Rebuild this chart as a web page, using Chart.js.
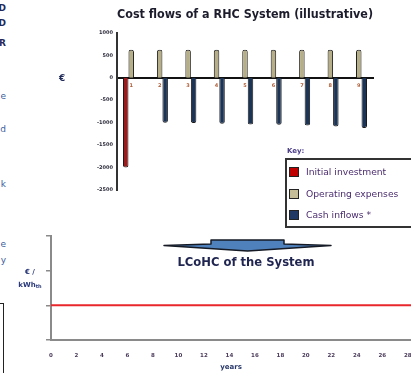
<!DOCTYPE html>
<html>
<head>
<meta charset="utf-8">
<script src="https://cdn.jsdelivr.net/npm/chart.js@4.4.1/dist/chart.umd.min.js"></script>
<style>
  html, body { margin: 0; padding: 0; background: #fff; }
  body { width: 411px; height: 373px; position: relative; overflow: hidden; font-family: "DejaVu Sans", sans-serif; }
  canvas { position: absolute; }
  #costChart { left: 0; top: 0; }
  #lcohcChart { left: 0; top: 228px; }
  .frag { position: absolute; left: -30px; width: 36px; text-align: right; line-height: 1; }
  .frag.dark { color: #1f2a5a; font: bold 9px "DejaVu Sans", sans-serif; }
  .frag.blue { color: #3e5c9c; font: 9px "DejaVu Sans", sans-serif; }
  #sideBox { position: absolute; left: -60px; top: 303px; width: 62px; height: 120px; border: 1.5px solid #222; }
  #euroTop { position: absolute; left: 59px; top: 73px; font: bold 9px "DejaVu Sans", sans-serif; color: #1f2a5a; }
  #euroBottom { position: absolute; left: 10px; top: 266px; width: 40px; text-align: center; font: bold 7px "DejaVu Sans", sans-serif; color: #2a3a7a; line-height: 13px; }
  #euroBottom sub { font-size: 5px; vertical-align: -1px; }
  #keyTitle { position: absolute; left: 287px; top: 147px; font: bold 7px "DejaVu Sans", sans-serif; color: #4b3d8a; }
  #keyBox { position: absolute; left: 285px; top: 158px; width: 140px; height: 66px; border: 2px solid #333; }
  .keyRow { position: absolute; left: 2px; height: 11px; white-space: nowrap; }
  .keySwatch { position: absolute; left: 0; top: 0; width: 8px; height: 8px; border: 1.5px solid #222; }
  .keyText { position: absolute; left: 17px; top: -1px; font: 9.2px "DejaVu Sans", sans-serif; color: #4a2c6e; }
  #lcohcTitle { position: absolute; left: 146px; top: 255px; width: 200px; text-align: center; font: bold 11.6px "DejaVu Sans", sans-serif; color: #1f2550; }
  svg { position: absolute; left: 0; top: 0; }
</style>
</head>
<body>
<span class="frag dark" style="top:3px">D</span>
<span class="frag dark" style="top:18px">D</span>
<span class="frag dark" style="top:38px">R</span>
<span class="frag blue" style="top:91px">e</span>
<span class="frag blue" style="top:124px">d</span>
<span class="frag blue" style="top:179px">k</span>
<span class="frag blue" style="top:239px">e</span>
<span class="frag blue" style="top:255px">y</span>
<div id="sideBox"></div>

<canvas id="costChart" width="411" height="200"></canvas>
<div id="euroTop">€</div>
<div id="keyTitle">Key:</div>
<div id="keyBox"></div>

<svg width="411" height="373">
  <polygon points="211,240 284,240 284,244 331,245.5 247.5,251 164,245.5 211,244"
           fill="#4f81bd" stroke="#151a24" stroke-width="1.5" stroke-linejoin="round"/>
</svg>
<div id="lcohcTitle">LCoHC of the System</div>
<div id="euroBottom">€ /<br>kWh<sub>th</sub></div>
<canvas id="lcohcChart" width="411" height="145"></canvas>

<script>
// Cost flows per year of the system
const years = ['1', '2', '3', '4', '5', '6', '7', '8', '9'];
const initialInvestment = [-2000, null, null, null, null, null, null, null, null];
const operatingExpenses = [620, 620, 620, 620, 620, 620, 620, 620, 620];
const cashInflows = [null, -1000, -1010, -1025, -1040, -1050, -1065, -1085, -1120];
const costTicks = [1000, 500, 0, -500, -1000, -1500, -2000, -2500];

const seriesNames = ['Initial investment', 'Operating expenses', 'Cash inflows *'];
const seriesColors = ['#c00000', '#c4bd97', '#1f3864'];
// bar bodies are drawn in a deeper shade of the key colour
const barShades = ['#9e1b1b', '#b5ae86', '#1c3557'];

// Levelised cost line over the system lifetime
const lcohcYears = [0, 30];
const lcohcLevel = [1, 1];
const yearTicks = [0, 2, 4, 6, 8, 10, 12, 14, 16, 18, 20, 22, 24, 26, 28];

const seriesValues = [initialInvestment, operatingExpenses, cashInflows];

new Chart(document.getElementById('costChart'), {
  type: 'bar',
  data: {
    labels: years,
    datasets: seriesNames.map((name, i) => ({
      label: name,
      data: seriesValues[i],
      backgroundColor: barShades[i],
      borderColor: '#1a1a1a',
      borderWidth: 1,
      borderRadius: 2,
      categoryPercentage: 0.58,
      barPercentage: 1
    }))
  },
  options: {
    responsive: false,
    animation: false,
    layout: { padding: { left: 0, right: 38, top: 0, bottom: 10 } },
    plugins: {
      legend: { display: false },
      tooltip: { enabled: false },
      title: {
        display: true,
        fullSize: false,
        text: 'Cost flows of a RHC System (illustrative)',
        color: '#1c1c2c',
        font: { family: 'DejaVu Sans', size: 11.5, weight: 'bold' },
        padding: { top: 8, bottom: 11 }
      }
    },
    scales: {
      x: {
        position: { y: 0 },
        z: 1,
        offset: true,
        grid: { display: false, drawTicks: false },
        border: { display: true, color: '#111', width: 2 },
        ticks: { font: { family: 'DejaVu Sans', size: 5, weight: 'bold' }, color: '#b0603a', padding: 5, maxRotation: 0, autoSkip: false }
      },
      y: {
        min: -2500,
        max: 1000,
        grid: { display: false, drawTicks: false },
        border: { display: true, color: '#333', width: 2 },
        ticks: {
          font: { family: 'DejaVu Sans', size: 5, weight: 'bold' },
          color: '#2b2b3b',
          padding: 4,
          callback: v => String(v)
        },
        afterBuildTicks: s => { s.ticks = costTicks.map(v => ({ value: v })); },
        afterFit: s => { s.width = 117; }
      }
    }
  }
});

// Key built from the series names and colours
const keyBox = document.getElementById('keyBox');
seriesNames.forEach((name, i) => {
  const row = document.createElement('div');
  row.className = 'keyRow';
  row.style.top = (7 + i * 21.5) + 'px';
  const sw = document.createElement('div');
  sw.className = 'keySwatch';
  sw.style.background = seriesColors[i];
  const tx = document.createElement('div');
  tx.className = 'keyText';
  tx.textContent = name;
  row.appendChild(sw);
  row.appendChild(tx);
  keyBox.appendChild(row);
});

new Chart(document.getElementById('lcohcChart'), {
  type: 'line',
  data: {
    datasets: [{
      label: 'LCoHC',
      data: lcohcYears.map((x, i) => ({ x: x, y: lcohcLevel[i] })),
      borderColor: '#e8262b',
      borderWidth: 2,
      pointRadius: 0
    }]
  },
  options: {
    responsive: false,
    animation: false,
    layout: { padding: { left: 0, right: 0, top: 8, bottom: 0 } },
    plugins: { legend: { display: false }, tooltip: { enabled: false } },
    scales: {
      x: {
        type: 'linear',
        min: 0,
        max: 28.25,
        grid: { display: false, drawTicks: false },
        border: { display: true, color: '#8a8a8a', width: 2 },
        ticks: { font: { family: 'DejaVu Sans', size: 5.5, weight: 'bold' }, color: '#4a3a5a', padding: 12, maxRotation: 0 },
        afterBuildTicks: s => { s.ticks = yearTicks.map(v => ({ value: v })); },
        afterFit: s => { s.height = 33; s.paddingLeft = 0; s.paddingRight = 0; },
        title: {
          display: true,
          text: 'years',
          color: '#2a3a6a',
          font: { family: 'DejaVu Sans', size: 7, weight: 'bold' },
          padding: { top: 0, bottom: 2 }
        }
      },
      y: {
        min: 0,
        max: 3,
        grid: { display: true, drawOnChartArea: false, drawTicks: true, tickLength: 5, color: '#8a8a8a', lineWidth: 1.5 },
        border: { display: true, color: '#8a8a8a', width: 2 },
        ticks: { display: false, stepSize: 1 },
        afterFit: s => { s.width = 51; s.paddingTop = 0; s.paddingBottom = 0; }
      }
    }
  }
});
</script>
</body>
</html>
